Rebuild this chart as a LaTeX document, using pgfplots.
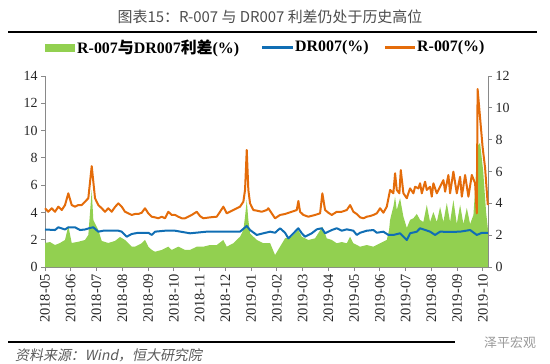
\documentclass[border=0pt]{standalone}
\usepackage{fontspec}
\setmainfont{Liberation Serif}
\newfontfamily\cjk{Noto Sans CJK SC}
\newfontfamily\cjkit[FakeSlant=0.2]{Noto Sans CJK SC}
\usepackage{pgfplots}
\pgfplotsset{compat=1.18}
\definecolor{cgreen}{RGB}{146,208,80}
\definecolor{cblue}{RGB}{16,110,180}
\definecolor{corange}{RGB}{228,108,10}
\definecolor{caxis}{RGB}{137,137,137}
\pgfplotsset{
  common/.style={
    at={(45bp,97bp)}, anchor=south west,
    width=443bp, height=191bp, scale only axis,
    xmin=0, xmax=17.2,
    no markers,
    axis line style={caxis, line width=0.8bp},
    major tick length=4bp, tick align=outside,
    tick style={caxis, line width=0.8bp},
    /pgf/number format/assume math mode=true,
    ticklabel style={font=\fontsize{14}{14}\selectfont, text=black!85},
    clip=false,
  }
}
\begin{document}
\begin{tikzpicture}
\path[use as bounding box] (0bp,0bp) rectangle (550bp,364bp);
% title
\node[font=\cjk\fontsize{15}{15}\selectfont, text=black!70] at (270bp,347bp) {图表15：R-007 与 DR007 利差仍处于历史高位};
\draw[line width=2.5bp] (8bp,332bp) -- (537bp,332bp);
% legend
\fill[cgreen] (45bp,312bp) rectangle (75bp,320bp);
\node[anchor=west, inner sep=1bp, font=\bfseries\fontsize{16}{16}\selectfont] at (76bp,316bp) {R-007{\cjk\bfseries 与}DR007{\cjk\bfseries 利差}(\%)};
\draw[cblue, line width=3bp] (262bp,316bp) -- (293bp,316bp);
\node[anchor=west, inner sep=1bp, font=\bfseries\fontsize{16}{16}\selectfont] at (294bp,316bp) {DR007(\%)};
\draw[corange, line width=3bp] (385bp,316bp) -- (415bp,316bp);
\node[anchor=west, inner sep=1bp, font=\bfseries\fontsize{16}{16}\selectfont] at (416bp,316bp) {R-007(\%)};
% footer
\draw[line width=2.5bp] (8bp,22bp) -- (455bp,22bp);
\node[anchor=west, inner sep=0pt, font=\cjkit\fontsize{14}{14}\selectfont, text=black!65] at (15bp,9bp) {资料来源：Wind，恒大研究院};
\node[anchor=west, inner sep=0pt, font=\cjk\fontsize{13}{13}\selectfont, text=black!40] at (484bp,21bp) {泽平宏观};

\begin{axis}[common,
  ymin=0, ymax=14, ytick={0,2,...,14},
  axis y line*=left, axis x line*=bottom,
  xtick={0,...,17},
  xticklabels={2018-05,2018-06,2018-07,2018-08,2018-09,2018-10,2018-11,2018-12,2019-01,2019-02,2019-03,2019-04,2019-05,2019-06,2019-07,2019-08,2019-09,2019-10},
  xticklabel style={rotate=90, anchor=east, font=\fontsize{14.5}{14.5}\selectfont},
]
\addplot[draw=none, fill=cgreen] coordinates {
(0,1.76)(0.194,1.83)(0.388,1.61)(0.583,1.76)(0.777,1.98)(0.905,3.01)(1.037,1.76)(1.293,1.85)(1.553,1.98)(1.682,2.35)(1.814,5.65)(1.876,3.45)(2.07,2.71)(2.202,1.91)(2.458,1.76)(2.718,1.91)(2.913,2.20)(3.107,1.98)(3.367,1.49)(3.495,1.49)(3.755,1.74)(3.883,1.98)(4.012,1.49)(4.144,1.25)(4.272,1.12)(4.532,1.25)(4.788,1.49)(4.92,1.25)(5.177,1.49)(5.437,1.25)(5.631,1.25)(5.891,1.49)(6.148,1.49)(6.408,1.61)(6.668,1.61)(6.924,1.98)(7.056,1.49)(7.313,1.74)(7.573,2.22)(7.701,2.71)(7.767,3.69)(7.833,4.91)(7.895,3.45)(7.961,2.47)(8.221,1.98)(8.478,1.74)(8.738,1.76)(8.932,0.88)(9.126,1.49)(9.32,2.10)(9.581,2.22)(9.837,2.71)(9.969,2.22)(10.225,1.98)(10.485,2.10)(10.769,2.95)(10.94,2.10)(11.134,1.98)(11.328,1.74)(11.522,1.83)(11.717,1.74)(11.845,2.22)(11.973,1.74)(12.233,1.49)(12.493,1.61)(12.75,1.49)(13.01,1.74)(13.27,1.98)(13.359,2.71)(13.398,3.45)(13.526,4.42)(13.592,5.15)(13.658,4.18)(13.786,5.04)(13.915,3.69)(14.047,2.86)(14.175,3.45)(14.303,3.57)(14.435,3.89)(14.563,3.45)(14.691,3.30)(14.823,4.55)(14.951,3.30)(15.08,4.03)(15.212,3.30)(15.34,4.40)(15.468,3.30)(15.6,4.69)(15.728,3.30)(15.856,4.91)(15.988,3.15)(16.117,4.55)(16.245,3.15)(16.377,4.33)(16.505,3.15)(16.634,3.81)(16.699,5.65)(16.757,7.84)(16.816,8.94)(16.893,9.09)(17.01,7.11)(17.126,4.03)(17.192,2.86)
} \closedcycle;
\addplot[cblue, line width=2bp, line join=round] coordinates {
(0,2.75)(0.388,2.71)(0.517,2.91)(0.777,2.75)(0.905,2.91)(1.165,2.91)(1.359,2.71)(1.553,2.75)(1.748,2.86)(1.876,2.91)(2.07,2.59)(2.264,2.66)(2.524,2.66)(2.847,2.66)(2.979,2.59)(3.173,2.22)(3.367,2.42)(3.623,2.51)(4.012,2.51)(4.144,2.35)(4.272,2.59)(4.66,2.66)(5.049,2.66)(5.631,2.47)(6.28,2.59)(6.924,2.59)(7.573,2.59)(7.833,3.01)(7.961,2.71)(8.221,2.35)(8.478,2.47)(8.738,2.59)(8.932,2.51)(9.126,2.84)(9.32,2.51)(9.448,2.10)(9.581,2.35)(9.837,2.84)(9.969,2.47)(10.097,2.22)(10.357,2.47)(10.551,2.76)(10.746,2.84)(10.874,2.47)(11.002,2.59)(11.134,2.71)(11.328,2.84)(11.522,2.66)(11.717,2.76)(11.973,2.66)(12.105,2.35)(12.233,2.51)(12.493,2.66)(12.75,2.71)(12.882,2.51)(13.138,2.59)(13.332,2.35)(13.526,2.35)(13.786,2.47)(13.915,2.22)(14.047,1.98)(14.175,2.47)(14.435,2.59)(14.563,2.84)(14.951,2.59)(15.146,2.35)(15.34,2.59)(15.728,2.57)(16.117,2.59)(16.505,2.71)(16.765,2.35)(16.971,2.51)(17.192,2.51)
};
\end{axis}

\begin{axis}[common,
  ymin=0, ymax=12, ytick={0,2,...,12},
  axis y line*=right, axis x line=none,
]
\addplot[corange, line width=2bp, line join=round] coordinates {
(0,3.69)(0.128,3.47)(0.26,3.69)(0.388,3.47)(0.517,3.79)(0.649,3.58)(0.777,3.89)(0.905,4.63)(1.037,3.89)(1.165,3.79)(1.293,3.89)(1.425,3.89)(1.553,4.10)(1.682,4.32)(1.814,6.34)(1.942,4.32)(2.07,3.89)(2.202,3.69)(2.33,3.47)(2.458,3.69)(2.59,3.47)(2.718,3.77)(2.847,4.00)(2.979,3.79)(3.107,3.47)(3.235,3.37)(3.367,3.27)(3.495,3.33)(3.623,3.33)(3.755,3.41)(3.883,3.69)(4.012,3.37)(4.144,3.16)(4.272,3.12)(4.4,3.06)(4.532,3.16)(4.66,3.06)(4.788,3.47)(4.92,3.27)(5.049,3.27)(5.177,3.16)(5.309,3.06)(5.437,3.06)(5.565,3.16)(5.697,3.27)(5.891,3.47)(6.019,3.20)(6.148,3.06)(6.408,3.12)(6.668,3.16)(6.796,3.47)(6.924,3.79)(7.056,3.37)(7.313,3.58)(7.573,3.79)(7.701,4.10)(7.767,4.84)(7.833,7.35)(7.895,4.84)(7.961,4.00)(8.089,3.58)(8.221,3.54)(8.416,3.47)(8.61,3.58)(8.672,3.69)(8.804,3.37)(8.932,3.06)(9.126,3.27)(9.32,3.33)(9.581,3.47)(9.775,3.58)(9.837,4.15)(9.903,3.47)(10.031,3.27)(10.225,3.16)(10.485,3.27)(10.68,3.37)(10.769,4.63)(10.874,3.58)(11.002,3.41)(11.134,3.27)(11.328,3.47)(11.522,3.47)(11.717,3.58)(11.845,3.89)(11.973,3.47)(12.105,3.33)(12.233,3.12)(12.361,3.06)(12.493,3.16)(12.621,3.20)(12.75,3.27)(12.882,3.37)(13.01,3.69)(13.138,3.41)(13.27,3.79)(13.398,4.84)(13.526,4.63)(13.592,5.89)(13.658,4.84)(13.759,4.63)(13.814,6.09)(13.915,4.63)(14.047,4.32)(14.109,4.63)(14.175,4.94)(14.303,4.63)(14.369,5.04)(14.497,4.94)(14.563,5.26)(14.629,4.63)(14.757,5.36)(14.823,4.84)(14.951,5.04)(15.017,4.42)(15.08,5.26)(15.212,4.63)(15.34,5.04)(15.468,5.46)(15.534,4.73)(15.662,5.78)(15.728,4.63)(15.856,5.99)(15.988,4.63)(16.117,5.67)(16.183,4.42)(16.311,5.78)(16.439,4.42)(16.571,5.78)(16.699,5.26)(16.765,3.37)(16.796,11.18)(16.99,7.54)(17.087,6.22)(17.192,3.89)
};
\end{axis}
\end{tikzpicture}
\end{document}
